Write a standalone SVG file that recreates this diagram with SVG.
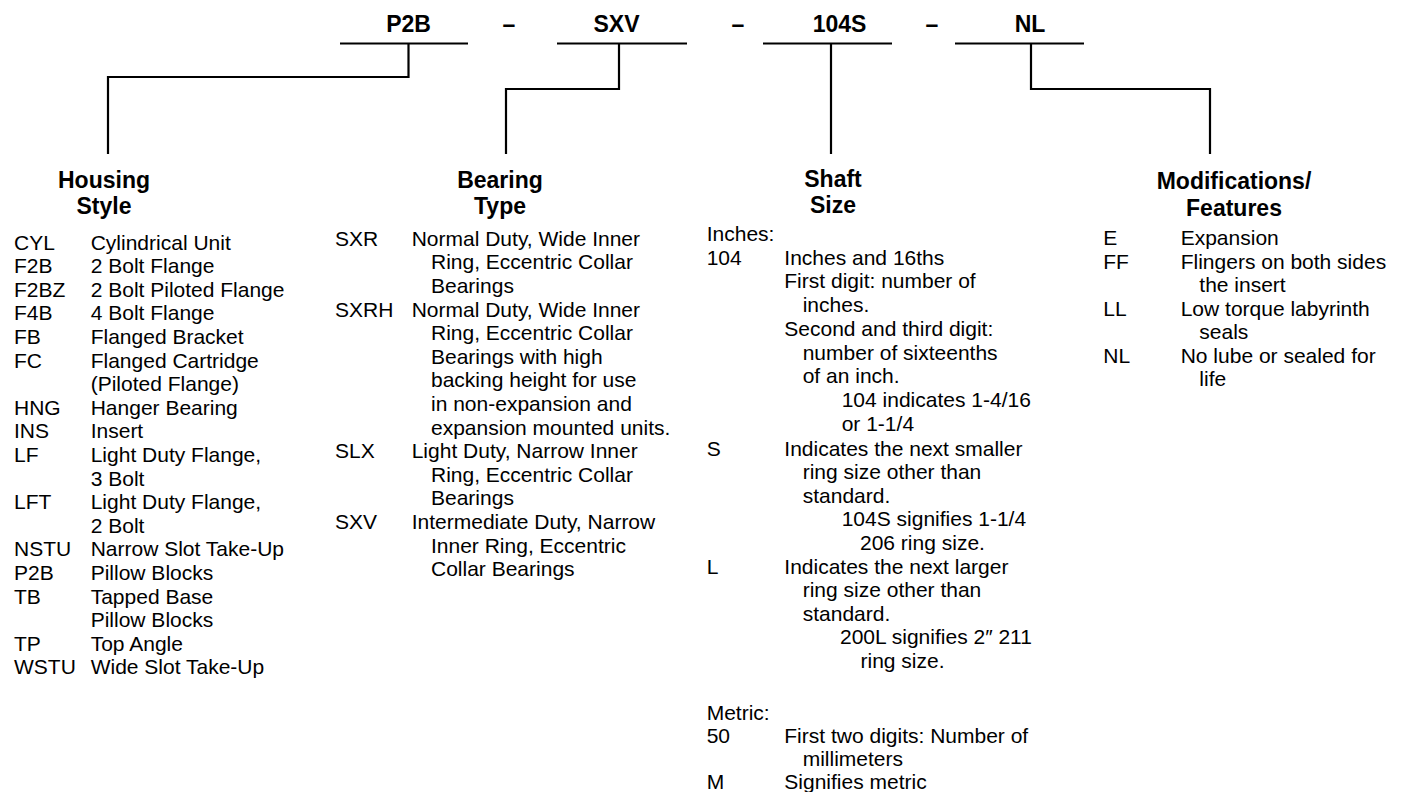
<svg xmlns="http://www.w3.org/2000/svg" width="1403" height="792" viewBox="0 0 1403 792">
<style>
  .bg { fill: #ffffff; }
  .hd { font-family: "Liberation Sans", Arial, sans-serif; font-weight: bold; font-size: 23px; fill: #000; text-anchor: middle; }
  .tx { font-family: "Liberation Sans", Arial, sans-serif; font-size: 21px; fill: #000; }
  .ln { fill: none; stroke: #000; stroke-width: 2.2; }
</style>
<rect class="bg" x="0" y="0" width="1403" height="792"/>

<g id="code">
  <text class="hd" x="408.5" y="32">P2B</text>
  <text class="hd" x="509" y="32">–</text>
  <text class="hd" x="616.5" y="32">SXV</text>
  <text class="hd" x="738" y="32">–</text>
  <text class="hd" x="839.5" y="32">104S</text>
  <text class="hd" x="932" y="32">–</text>
  <text class="hd" x="1030" y="32">NL</text>
</g>

<g id="connectors">
  <path class="ln" d="M340,43.5 H468"/>
  <path class="ln" d="M557,43.5 H687"/>
  <path class="ln" d="M763,43.5 H892"/>
  <path class="ln" d="M955,43.5 H1084"/>
  <path class="ln" d="M408.5,43.5 V77 H108 V154"/>
  <path class="ln" d="M619,43.5 V89 H506 V154"/>
  <path class="ln" d="M831,43.5 V154"/>
  <path class="ln" d="M1031,43.5 V89 H1210 V154"/>
</g>

<g id="housing">
  <text class="hd" x="104" y="188">Housing</text>
  <text class="hd" x="104" y="214">Style</text>
  <text class="tx">
    <tspan x="14" y="249.5">CYL</tspan><tspan x="90.7" y="249.5">Cylindrical Unit</tspan>
    <tspan x="14" y="273.1">F2B</tspan><tspan x="90.7" y="273.1">2 Bolt Flange</tspan>
    <tspan x="14" y="296.7">F2BZ</tspan><tspan x="90.7" y="296.7">2 Bolt Piloted Flange</tspan>
    <tspan x="14" y="320.3">F4B</tspan><tspan x="90.7" y="320.3">4 Bolt Flange</tspan>
    <tspan x="14" y="343.9">FB</tspan><tspan x="90.7" y="343.9">Flanged Bracket</tspan>
    <tspan x="14" y="367.5">FC</tspan><tspan x="90.7" y="367.5">Flanged Cartridge</tspan>
    <tspan x="90.7" y="391.1">(Piloted Flange)</tspan>
    <tspan x="14" y="414.7">HNG</tspan><tspan x="90.7" y="414.7">Hanger Bearing</tspan>
    <tspan x="14" y="438.3">INS</tspan><tspan x="90.7" y="438.3">Insert</tspan>
    <tspan x="14" y="461.9">LF</tspan><tspan x="90.7" y="461.9">Light Duty Flange,</tspan>
    <tspan x="90.7" y="485.5">3 Bolt</tspan>
    <tspan x="14" y="509.1">LFT</tspan><tspan x="90.7" y="509.1">Light Duty Flange,</tspan>
    <tspan x="90.7" y="532.7">2 Bolt</tspan>
    <tspan x="14" y="556.3">NSTU</tspan><tspan x="90.7" y="556.3">Narrow Slot Take-Up</tspan>
    <tspan x="14" y="579.9">P2B</tspan><tspan x="90.7" y="579.9">Pillow Blocks</tspan>
    <tspan x="14" y="603.5">TB</tspan><tspan x="90.7" y="603.5">Tapped Base</tspan>
    <tspan x="90.7" y="627.1">Pillow Blocks</tspan>
    <tspan x="14" y="650.7">TP</tspan><tspan x="90.7" y="650.7">Top Angle</tspan>
    <tspan x="14" y="674.3">WSTU</tspan><tspan x="90.7" y="674.3">Wide Slot Take-Up</tspan>
  </text>
</g>

<g id="bearing">
  <text class="hd" x="500" y="188">Bearing</text>
  <text class="hd" x="500" y="214">Type</text>
  <text class="tx">
    <tspan x="335" y="245.7">SXR</tspan><tspan x="411.7" y="245.7">Normal Duty, Wide Inner</tspan>
    <tspan x="431" y="269.3">Ring, Eccentric Collar</tspan>
    <tspan x="431" y="292.9">Bearings</tspan>
    <tspan x="335" y="316.5">SXRH</tspan><tspan x="411.7" y="316.5">Normal Duty, Wide Inner</tspan>
    <tspan x="431" y="340.1">Ring, Eccentric Collar</tspan>
    <tspan x="431" y="363.7">Bearings with high</tspan>
    <tspan x="431" y="387.3">backing height for use</tspan>
    <tspan x="431" y="410.9">in non-expansion and</tspan>
    <tspan x="431" y="434.5">expansion mounted units.</tspan>
    <tspan x="335" y="458.1">SLX</tspan><tspan x="411.7" y="458.1">Light Duty, Narrow Inner</tspan>
    <tspan x="431" y="481.7">Ring, Eccentric Collar</tspan>
    <tspan x="431" y="505.3">Bearings</tspan>
    <tspan x="335" y="528.9">SXV</tspan><tspan x="411.7" y="528.9">Intermediate Duty, Narrow</tspan>
    <tspan x="431" y="552.5">Inner Ring, Eccentric</tspan>
    <tspan x="431" y="576.1">Collar Bearings</tspan>
  </text>
</g>

<g id="shaft">
  <text class="hd" x="833" y="187">Shaft</text>
  <text class="hd" x="833" y="213">Size</text>
  <text class="tx">
    <tspan x="706.7" y="241">Inches:</tspan>
    <tspan x="706.7" y="264.7">104</tspan><tspan x="784.3" y="264.7">Inches and 16ths</tspan>
    <tspan x="784.3" y="288.4">First digit: number of</tspan>
    <tspan x="802.7" y="312.1">inches.</tspan>
    <tspan x="784.3" y="335.8">Second and third digit:</tspan>
    <tspan x="802.7" y="359.5">number of sixteenths</tspan>
    <tspan x="802.7" y="383.2">of an inch.</tspan>
    <tspan x="841.7" y="406.9">104 indicates 1-4/16</tspan>
    <tspan x="841.7" y="430.6">or 1-1/4</tspan>
    <tspan x="706.7" y="455.5">S</tspan><tspan x="784.3" y="455.5">Indicates the next smaller</tspan>
    <tspan x="802.7" y="479">ring size other than</tspan>
    <tspan x="802.7" y="502.5">standard.</tspan>
    <tspan x="841.7" y="526">104S signifies 1-1/4</tspan>
    <tspan x="860" y="549.5">206 ring size.</tspan>
    <tspan x="706.7" y="573.5">L</tspan><tspan x="784.3" y="573.5">Indicates the next larger</tspan>
    <tspan x="802.7" y="597">ring size other than</tspan>
    <tspan x="802.7" y="620.5">standard.</tspan>
    <tspan x="840" y="644">200L signifies 2″ 211</tspan>
    <tspan x="860.5" y="667.5">ring size.</tspan>
    <tspan x="706.7" y="719.5">Metric:</tspan>
    <tspan x="706.7" y="743">50</tspan><tspan x="784.3" y="743">First two digits: Number of</tspan>
    <tspan x="802.7" y="766">millimeters</tspan>
    <tspan x="706.7" y="789">M</tspan><tspan x="784.3" y="789">Signifies metric</tspan>
  </text>
</g>

<g id="modifications">
  <text class="hd" x="1234" y="189">Modifications/</text>
  <text class="hd" x="1234" y="216">Features</text>
  <text class="tx">
    <tspan x="1103.3" y="245">E</tspan><tspan x="1180.7" y="245">Expansion</tspan>
    <tspan x="1103.3" y="268.5">FF</tspan><tspan x="1180.7" y="268.5">Flingers on both sides</tspan>
    <tspan x="1199.3" y="292">the insert</tspan>
    <tspan x="1103.3" y="315.5">LL</tspan><tspan x="1180.7" y="315.5">Low torque labyrinth</tspan>
    <tspan x="1199.3" y="339">seals</tspan>
    <tspan x="1103.3" y="362.5">NL</tspan><tspan x="1180.7" y="362.5">No lube or sealed for</tspan>
    <tspan x="1199.3" y="386">life</tspan>
  </text>
</g>
</svg>
